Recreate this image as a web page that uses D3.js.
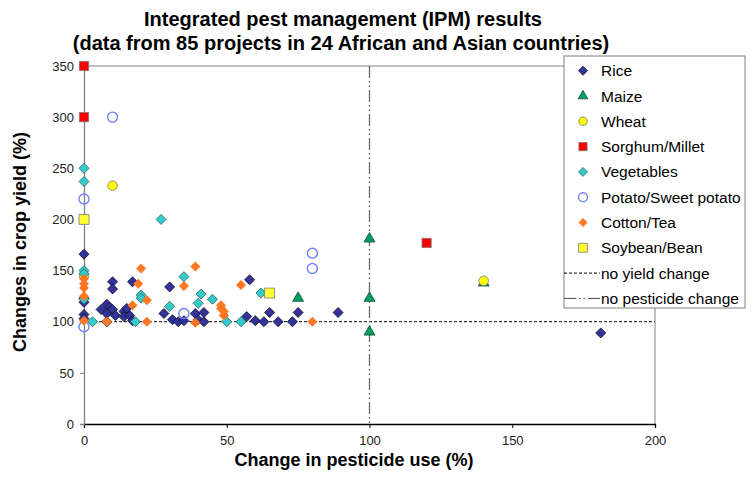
<!DOCTYPE html>
<html>
<head>
<meta charset="utf-8">
<script src="https://cdn.jsdelivr.net/npm/d3@7"></script>
<style>
  body { margin: 0; background: #fff; }
  text { font-family: 'Liberation Sans', Arial, sans-serif; }
</style>
</head>
<body>
<div id="chart"></div>
<script>
// data: [pesticide change %, yield change %]
var rice = [[0, 166], [0, 123], [0, 119], [0, 107], [0, 103],
  [10, 139], [10, 132], [17, 139],
  [6, 112], [8, 117], [9, 114], [10, 112], [8, 108], [11, 106], [8, 100],
  [14, 110], [15, 113], [14, 105], [16, 106], [17, 101],
  [30, 134], [28, 108], [31, 102], [33, 100], [35, 101], [39, 108], [42, 109], [40, 102], [42, 100],
  [58, 141], [57, 105], [60, 101], [63, 100], [65, 109], [68, 100], [73, 100], [75, 109], [89, 109], [181, 89]]
var maize = [[75, 123], [100, 181], [100, 123], [100, 90], [140, 138]]
var wheat = [[10, 233], [140, 140], [0, 145]]
var sorghum = [[0, 350], [0, 300], [120, 177]]
var vegetables = [[0, 250], [0, 237], [27, 200], [0, 150], [0, 147], [0, 122], [3, 100], [18, 100],
  [20, 126], [20, 123], [30, 115], [35, 144], [40, 118], [41, 127], [45, 122], [50, 100], [55, 100], [62, 128]]
var potato = [[10, 300], [0, 220], [0, 95], [35, 108], [80, 167], [80, 152]]
var cotton = [[0, 142], [0, 137], [0, 133], [0, 125], [0, 101], [8, 100], [20, 152], [19, 137], [22, 121],
  [17, 116], [22, 100], [39, 154], [35, 135], [39, 99], [55, 136], [48, 116], [48, 113], [49, 110], [49, 106], [80, 100]]
var soybean = [[0, 200], [65, 128]]

var xTicks = [0, 50, 100, 150, 200]
var yTicks = [0, 50, 100, 150, 200, 250, 300, 350]

var series = [
  { name: 'Rice', data: rice, shape: 'diamond', size: 50, fill: '#333399', stroke: '#111133' },
  { name: 'Maize', data: maize, shape: 'triangle', size: 52, fill: '#00a060', stroke: '#1d4d33' },
  { name: 'Wheat', data: wheat, shape: 'circle', size: 72, fill: '#ffff00', stroke: '#777' },
  { name: 'Sorghum/Millet', data: sorghum, shape: 'square', size: 85, fill: '#ff0000', stroke: '#777' },
  { name: 'Vegetables', data: vegetables, shape: 'diamond', size: 50, fill: '#33cccc', stroke: '#336666' },
  { name: 'Potato/Sweet potato', data: potato, shape: 'circle', size: 78, fill: 'none', stroke: '#6f7fff' },
  { name: 'Cotton/Tea', data: cotton, shape: 'diamond', size: 50, fill: '#ff7722', stroke: 'none' },
  { name: 'Soybean/Bean', data: soybean, shape: 'square', size: 100, fill: '#ffff33', stroke: '#777' }
]

var W = 754
var H = 477
var m = { top: 66, left: 84, right: 99, bottom: 53 }
var pw = W - m.left - m.right
var ph = H - m.top - m.bottom

var svg = d3.select('#chart').append('svg')
  .attr('width', W)
  .attr('height', H)

var x = d3.scaleLinear().domain([0, 200]).range([0, pw])
var y = d3.scaleLinear().domain([0, 350]).range([ph, 0])

var symbolTypes = { diamond: d3.symbolSquare, triangle: d3.symbolTriangle, circle: d3.symbolCircle, square: d3.symbolSquare }
function symbolPath (s, scale) {
  return d3.symbol().type(symbolTypes[s.shape]).size(s.size * (scale || 1))()
}

// title
var title = svg.append('g').attr('font-weight', 'bold').attr('font-size', 20).attr('fill', '#000')
title.append('text').attr('x', 343).attr('y', 26).attr('text-anchor', 'middle')
  .text('Integrated pest management (IPM) results')
title.append('text').attr('x', 341).attr('y', 50).attr('text-anchor', 'middle')
  .text('(data from 85 projects in 24 African and Asian countries)')

var g = svg.append('g').attr('transform', 'translate(' + m.left + ',' + m.top + ')')

// plot frame
g.append('line').attr('x1', 0).attr('x2', pw).attr('y1', 0).attr('y2', 0).attr('stroke', '#808080')
g.append('line').attr('x1', pw).attr('x2', pw).attr('y1', 0).attr('y2', ph).attr('stroke', '#808080')

// reference lines
g.append('line')
  .attr('x1', 0).attr('x2', pw)
  .attr('y1', y(100)).attr('y2', y(100))
  .attr('stroke', '#000').attr('stroke-width', 1).attr('stroke-dasharray', '3,2')
g.append('line')
  .attr('x1', x(100)).attr('x2', x(100))
  .attr('y1', 0).attr('y2', ph)
  .attr('stroke', '#666').attr('stroke-width', 1.3).attr('stroke-dasharray', '12,3,1.5,3,1.5,3')

// axes
var xAxis = g.append('g').attr('transform', 'translate(0,' + ph + ')')
  .call(d3.axisBottom(x).tickValues(xTicks).tickSize(4).tickPadding(8))
var yAxis = g.append('g')
  .call(d3.axisLeft(y).tickValues(yTicks).tickSize(4).tickPadding(6))
xAxis.select('.domain').attr('stroke', '#000').attr('stroke-width', 1.3)
yAxis.select('.domain').attr('stroke', '#808080').attr('stroke-width', 1.3)
xAxis.selectAll('.tick line').attr('stroke', '#000')
yAxis.selectAll('.tick line').attr('stroke', '#808080')
svg.selectAll('.tick text').attr('font-size', 13).attr('fill', '#222')
  .attr('font-family', "'Liberation Sans', Arial, sans-serif")

// axis titles
svg.append('text')
  .attr('x', 354).attr('y', 466)
  .attr('text-anchor', 'middle').attr('font-weight', 'bold').attr('font-size', 18)
  .text('Change in pesticide use (%)')
svg.append('text')
  .attr('transform', 'translate(26,' + (m.top + ph / 2 - 3) + ') rotate(-90)')
  .attr('text-anchor', 'middle').attr('font-weight', 'bold').attr('font-size', 18)
  .text('Changes in crop yield (%)')

// points
series.forEach(function (s) {
  g.append('g').selectAll('path')
    .data(s.data)
    .enter().append('path')
    .attr('d', symbolPath(s))
    .attr('transform', function (d) {
      return 'translate(' + x(d[0]) + ',' + y(d[1]) + ')' + (s.shape === 'diamond' ? ' rotate(45)' : '')
    })
    .attr('fill', s.fill)
    .attr('stroke', s.stroke)
    .attr('stroke-width', s.fill === 'none' ? 1.4 : 0.8)
})

// legend
var lg = svg.append('g').attr('transform', 'translate(564,56)')
lg.append('rect').attr('x', 0).attr('y', 0).attr('width', 181).attr('height', 252)
  .attr('fill', '#fff').attr('stroke', '#808080')
var rowH = 25.3
series.forEach(function (s, i) {
  var row = lg.append('g').attr('transform', 'translate(0,' + (14.7 + i * rowH) + ')')
  row.append('path')
    .attr('d', symbolPath(s, 0.8))
    .attr('transform', 'translate(19,0)' + (s.shape === 'diamond' ? ' rotate(45)' : ''))
    .attr('fill', s.fill).attr('stroke', s.stroke)
    .attr('stroke-width', s.fill === 'none' ? 1.4 : 0.8)
  row.append('text').attr('x', 37).attr('y', 5.5).attr('font-size', 15.5).text(s.name)
})
var lines = [
  { name: 'no yield change', dash: '3,2', stroke: '#000' },
  { name: 'no pesticide change', dash: '12,3,1.5,3,1.5,3', stroke: '#444' }
]
lines.forEach(function (l, i) {
  var yy = 14.7 + (series.length + i) * rowH
  lg.append('line').attr('x1', 0).attr('x2', 36).attr('y1', yy).attr('y2', yy)
    .attr('stroke', l.stroke).attr('stroke-dasharray', l.dash)
  lg.append('text').attr('x', 37).attr('y', yy + 5.5).attr('font-size', 15.5).text(l.name)
})
</script>
</body>
</html>
